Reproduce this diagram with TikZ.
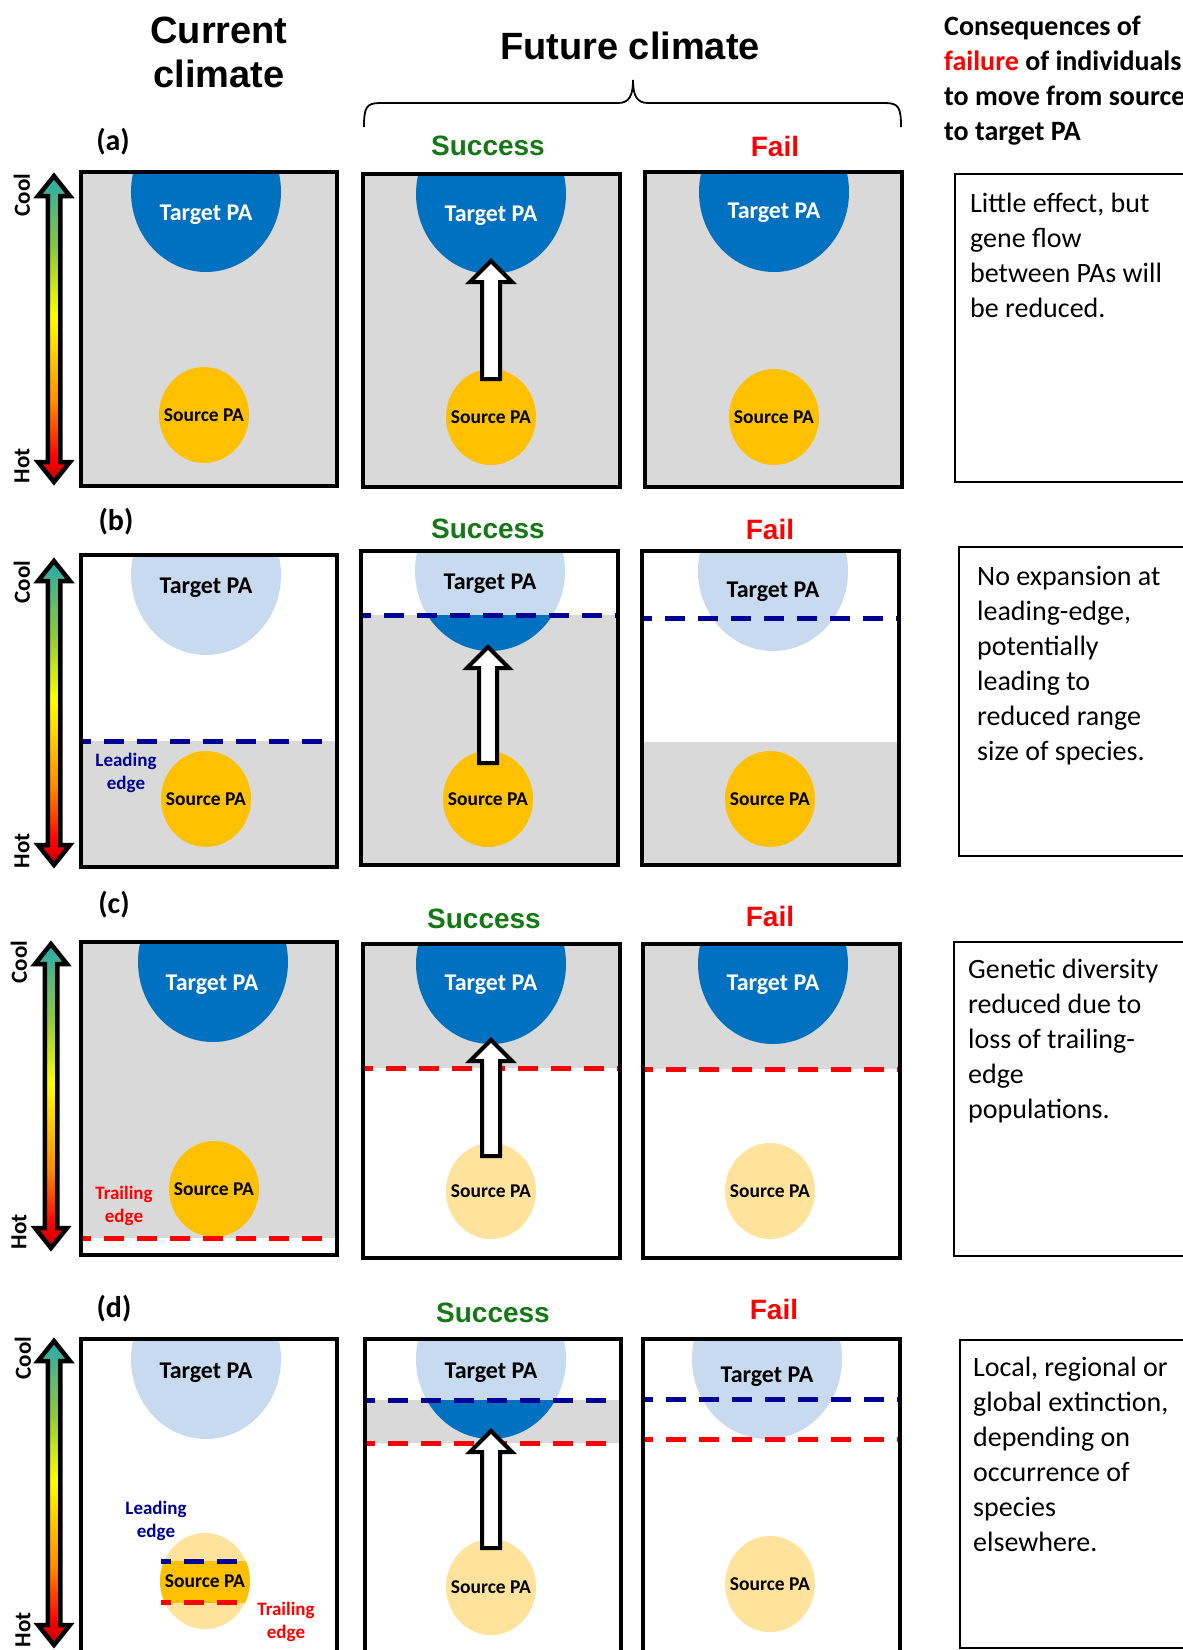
\documentclass[tikz,border=0pt]{standalone}
\usepackage{fontspec}
\setmainfont{Carlito}
\newfontfamily\arialfont{Liberation Sans}
\usetikzlibrary{calc}

\definecolor{areagrey}{RGB}{217,217,217}
\definecolor{pablue}{RGB}{0,112,192}
\definecolor{paorange}{RGB}{255,192,0}
\definecolor{paleblue}{RGB}{200,218,240}
\definecolor{paleorange}{RGB}{255,226,155}
\definecolor{edgeblue}{RGB}{0,0,150}
\definecolor{okgreen}{RGB}{20,120,20}
\definecolor{heatA}{RGB}{192,0,0}
\definecolor{heatB}{RGB}{255,0,0}
\definecolor{heatC}{RGB}{255,140,0}
\definecolor{heatD}{RGB}{255,255,0}
\definecolor{heatE}{RGB}{140,200,60}
\definecolor{heatF}{RGB}{40,170,175}
\pgfdeclareverticalshading{heat}{100bp}{color(0bp)=(heatA); color(25bp)=(heatA); color(29bp)=(heatB); color(38bp)=(heatC); color(52bp)=(heatD); color(63bp)=(heatE); color(75bp)=(heatF); color(100bp)=(heatF)}

\tikzstyle{panel}=[draw, line width=4.5pt]
\tikzstyle{notebox}=[draw, line width=2pt]
\tikzstyle{futbrace}=[draw, line width=1.8pt]
\tikzstyle{leadline}=[draw=edgeblue, line width=5pt, dash pattern=on 20pt off 13pt, dash phase=10pt]
\tikzstyle{trailline}=[draw=red, line width=5pt, dash pattern=on 20pt off 13pt, dash phase=10pt]
\tikzstyle{movearrow}=[draw, fill=white, line width=4pt]
\tikzstyle{heatarrow}=[draw, line width=4.5pt, shading=heat]
\tikzstyle{titletext}=[font={\arialfont\bfseries\fontsize{38}{44}\selectfont}, align=center]
\tikzstyle{conseq}=[font={\bfseries\fontsize{28}{35}\selectfont}, align=left, anchor=north west, inner sep=0pt]
\tikzstyle{notetext}=[font={\fontsize{28}{35}\selectfont}, align=left, anchor=north west, inner sep=0pt]
\tikzstyle{rowlabel}=[font={\bfseries\fontsize{30}{32}\selectfont}]
\tikzstyle{succlabel}=[font={\arialfont\bfseries\fontsize{28}{30}\selectfont}, text=okgreen]
\tikzstyle{faillabel}=[font={\arialfont\bfseries\fontsize{28}{30}\selectfont}, text=red]
\tikzstyle{tgttext}=[font={\bfseries\fontsize{24}{26}\selectfont}]
\tikzstyle{srctext}=[font={\bfseries\fontsize{19.5}{22}\selectfont}]
\tikzstyle{edgetext}=[font={\bfseries\fontsize{19}{23}\selectfont}, align=center]
\tikzstyle{climtext}=[font={\bfseries\fontsize{23}{25}\selectfont}, rotate=90]

\newcommand{\blockarrow}[2]{\draw[movearrow] ($(#1)+(-9,0)$) -- ($(#2)+(-9,21)$) -- ($(#2)+(-21,21)$) -- (#2) -- ($(#2)+(21,21)$) -- ($(#2)+(9,21)$) -- ($(#1)+(9,0)$) -- cycle;}
\newcommand{\heatbar}[2]{\shadedraw[heatarrow] (#1) -- ($(#1)+(16,20)$) -- ($(#1)+(6.25,20)$) -- ($(#2)+(6.25,-20)$) -- ($(#2)+(16,-20)$) -- (#2) -- ($(#2)+(-16,-20)$) -- ($(#2)+(-6.25,-20)$) -- ($(#1)+(-6.25,20)$) -- ($(#1)+(-16,20)$) -- cycle;}

\begin{document}
\begin{tikzpicture}[x=1pt, y=-1pt]
\useasboundingbox (0,0) rectangle (1183,1650);
\clip (0,0) rectangle (1183,1650);

\node[titletext] (current) at (219,52) {Current\\climate};
\node[titletext] (future) at (630,46) {Future climate};
\draw[futbrace] (364,127) .. controls (364,108) and (366,103) .. (380,103) -- (618,103) .. controls (629,103) and (633,96) .. (633,80) .. controls (633,96) and (637,103) .. (648,103) -- (885,103) .. controls (899,103) and (901,108) .. (901,127);
\node[conseq] (conseq) at (944,16) {Consequences of\\\textcolor{red}{failure} of individuals\\to move from source\\to target PA};

\node[rowlabel] (rowa) at (113,142) {(a)};
\node[succlabel] (succa) at (488,146) {Success};
\node[faillabel] (faila) at (775,146) {Fail};
\coordinate (acool) at (54,176);
\coordinate (ahot) at (54,482);
\heatbar{acool}{ahot}
\node[climtext] (coola) at (22,195) {Cool};
\node[climtext] (hota) at (22,466) {Hot};

\begin{scope}
  \clip (81,172) rectangle (337,486);
  \fill[areagrey] (81,172) rectangle (337,486);
  \fill[pablue] (206,192) ellipse (75 and 80);
  \fill[paorange] (204,415) ellipse (45 and 48);
\end{scope}
\draw[panel] (81,172) rectangle (337,486);
\node[tgttext, text=white] (a1t) at (206,215) {Target PA};
\node[srctext] (a1s) at (204,415) {Source PA};

\begin{scope}
  \clip (363,174) rectangle (620,487);
  \fill[areagrey] (363,174) rectangle (620,487);
  \fill[pablue] (491,194) ellipse (75 and 80);
  \fill[paorange] (491,417) ellipse (45 and 48);
\end{scope}
\draw[panel] (363,174) rectangle (620,487);
\node[tgttext, text=white] (a2t) at (491,216) {Target PA};
\node[srctext] (a2s) at (491,417) {Source PA};
\coordinate (a2tail) at (491,379);
\coordinate (a2tip) at (491,261);
\blockarrow{a2tail}{a2tip}

\begin{scope}
  \clip (645,172) rectangle (902,487);
  \fill[areagrey] (645,172) rectangle (902,487);
  \fill[pablue] (774,192) ellipse (75 and 80);
  \fill[paorange] (774,417) ellipse (45 and 48);
\end{scope}
\draw[panel] (645,172) rectangle (902,487);
\node[tgttext, text=white] (a3t) at (774,213) {Target PA};
\node[srctext] (a3s) at (774,417) {Source PA};

\draw[notebox] (955,174) rectangle (1195,482);
\node[notetext] (ta) at (970,193) {Little effect, but\\gene flow\\between PAs will\\be reduced.};

\node[rowlabel] (rowb) at (116,522) {(b)};
\node[succlabel] (succb) at (488,529) {Success};
\node[faillabel] (failb) at (770,529) {Fail};
\coordinate (bcool) at (54,561);
\coordinate (bhot) at (54,865);
\heatbar{bcool}{bhot}
\node[climtext] (coolb) at (22,582) {Cool};
\node[climtext] (hotb) at (22,851) {Hot};

\begin{scope}
  \clip (81,555) rectangle (337,867);
  \fill[areagrey] (81,741) rectangle (337,867);
  \fill[paleblue] (206,575) ellipse (75 and 80);
  \fill[paorange] (206,799) ellipse (45 and 48);
  \draw[leadline] (81,741) -- (337,741);
\end{scope}
\draw[panel] (81,555) rectangle (337,867);
\node[tgttext] (b1t) at (206,588) {Target PA};
\node[srctext] (b1s) at (206,799) {Source PA};
\node[edgetext, text=edgeblue] (b1lead) at (126,773) {Leading\\edge};

\begin{scope}
  \clip (361,551) rectangle (618,865);
  \fill[areagrey] (361,615) rectangle (618,865);
  \fill[paleblue] (490,571) ellipse (75 and 80);
  \begin{scope}
    \clip (361,615) rectangle (618,865);
    \fill[pablue] (490,571) ellipse (75 and 80);
  \end{scope}
  \fill[paorange] (488,799) ellipse (45 and 48);
  \draw[leadline] (361,615) -- (618,615);
\end{scope}
\draw[panel] (361,551) rectangle (618,865);
\node[tgttext] (b2t) at (490,584) {Target PA};
\node[srctext] (b2s) at (488,799) {Source PA};
\coordinate (b2tail) at (488,763);
\coordinate (b2tip) at (488,647);
\blockarrow{b2tail}{b2tip}

\begin{scope}
  \clip (642,551) rectangle (899,865);
  \fill[areagrey] (642,742) rectangle (899,865);
  \fill[paleblue] (773,571) ellipse (75 and 80);
  \fill[paorange] (770,799) ellipse (45 and 48);
  \draw[leadline] (642,618) -- (899,618);
\end{scope}
\draw[panel] (642,551) rectangle (899,865);
\node[tgttext] (b3t) at (773,592) {Target PA};
\node[srctext] (b3s) at (770,799) {Source PA};

\draw[notebox] (959,547) rectangle (1195,856);
\node[notetext] (tb) at (977,566) {No expansion at\\leading-edge,\\potentially\\leading to\\reduced range\\size of species.};

\node[rowlabel] (rowc) at (114,905) {(c)};
\node[succlabel] (succc) at (484,919) {Success};
\node[faillabel] (failc) at (770,916) {Fail};
\coordinate (ccool) at (51,944);
\coordinate (chot) at (51,1248);
\heatbar{ccool}{chot}
\node[climtext] (coolc) at (19,962) {Cool};
\node[climtext] (hotc) at (19,1232) {Hot};

\begin{scope}
  \clip (81,942) rectangle (337,1255);
  \fill[areagrey] (81,942) rectangle (337,1238);
  \fill[pablue] (213,962) ellipse (75 and 80);
  \fill[paorange] (214,1189) ellipse (45 and 48);
  \draw[trailline] (81,1238) -- (337,1238);
\end{scope}
\draw[panel] (81,942) rectangle (337,1255);
\node[tgttext, text=white] (c1t) at (212,985) {Target PA};
\node[srctext] (c1s) at (214,1189) {Source PA};
\node[edgetext, text=red] (c1trail) at (124,1206) {Trailing\\edge};

\begin{scope}
  \clip (363,944) rectangle (620,1258);
  \fill[areagrey] (363,944) rectangle (620,1068);
  \fill[pablue] (491,964) ellipse (75 and 80);
  \fill[paleorange] (491,1191) ellipse (45 and 48);
  \draw[trailline] (363,1068) -- (620,1068);
\end{scope}
\draw[panel] (363,944) rectangle (620,1258);
\node[tgttext, text=white] (c2t) at (491,985) {Target PA};
\node[srctext] (c2s) at (491,1191) {Source PA};
\coordinate (c2tail) at (491,1156);
\coordinate (c2tip) at (491,1040);
\blockarrow{c2tail}{c2tip}

\begin{scope}
  \clip (643,944) rectangle (900,1258);
  \fill[areagrey] (643,944) rectangle (900,1069);
  \fill[pablue] (773,964) ellipse (75 and 80);
  \fill[paleorange] (770,1191) ellipse (45 and 48);
  \draw[trailline] (643,1069) -- (900,1069);
\end{scope}
\draw[panel] (643,944) rectangle (900,1258);
\node[tgttext, text=white] (c3t) at (773,985) {Target PA};
\node[srctext] (c3s) at (770,1191) {Source PA};

\draw[notebox] (954,942) rectangle (1195,1256);
\node[notetext] (tc) at (968,959) {Genetic diversity\\reduced due to\\loss of trailing-\\edge\\populations.};

\node[rowlabel] (rowd) at (114,1309) {(d)};
\node[succlabel] (succd) at (493,1313) {Success};
\node[faillabel] (faild) at (774,1309) {Fail};
\coordinate (dcool) at (54,1341);
\coordinate (dhot) at (54,1645);
\heatbar{dcool}{dhot}
\node[climtext] (coold) at (23,1358) {Cool};
\node[climtext] (hotd) at (23,1630) {Hot};

\begin{scope}
  \clip (81,1339) rectangle (337,1653);
  \fill[paleblue] (206,1359) ellipse (75 and 80);
  \fill[paleorange] (205,1581) ellipse (45 and 48);
  \begin{scope}
    \clip (81,1561) rectangle (337,1602);
    \fill[paorange] (205,1581) ellipse (45 and 48);
  \end{scope}
  \draw[leadline] (161,1561) -- (247,1561);
  \draw[trailline] (161,1602) -- (247,1602);
\end{scope}
\draw[panel] (81,1339) rectangle (337,1653);
\node[tgttext] (d1t) at (206,1373) {Target PA};
\node[srctext] (d1s) at (205,1581) {Source PA};
\node[edgetext, text=edgeblue] (d1lead) at (156,1521) {Leading\\edge};
\node[edgetext, text=red] (d1trail) at (286,1622) {Trailing\\edge};

\begin{scope}
  \clip (365,1339) rectangle (621,1653);
  \fill[areagrey] (365,1400) rectangle (621,1443);
  \fill[paleblue] (491,1359) ellipse (75 and 80);
  \begin{scope}
    \clip (365,1400) rectangle (621,1443);
    \fill[pablue] (491,1359) ellipse (75 and 80);
  \end{scope}
  \fill[paleorange] (491,1587) ellipse (45 and 48);
  \draw[leadline] (365,1400) -- (621,1400);
  \draw[trailline] (365,1443) -- (621,1443);
\end{scope}
\draw[panel] (365,1339) rectangle (621,1653);
\node[tgttext] (d2t) at (491,1373) {Target PA};
\node[srctext] (d2s) at (491,1587) {Source PA};
\coordinate (d2tail) at (491,1548);
\coordinate (d2tip) at (491,1431);
\blockarrow{d2tail}{d2tip}

\begin{scope}
  \clip (643,1339) rectangle (900,1653);
  \fill[paleblue] (767,1359) ellipse (75 and 80);
  \fill[paleorange] (770,1584) ellipse (45 and 48);
  \draw[leadline] (643,1399) -- (900,1399);
  \draw[trailline] (643,1439) -- (900,1439);
\end{scope}
\draw[panel] (643,1339) rectangle (900,1653);
\node[tgttext] (d3t) at (767,1377) {Target PA};
\node[srctext] (d3s) at (770,1584) {Source PA};

\draw[notebox] (960,1340) rectangle (1195,1648);
\node[notetext] (td) at (973,1357) {Local, regional or\\global extinction,\\depending on\\occurrence of\\species\\elsewhere.};
\end{tikzpicture}
\end{document}
